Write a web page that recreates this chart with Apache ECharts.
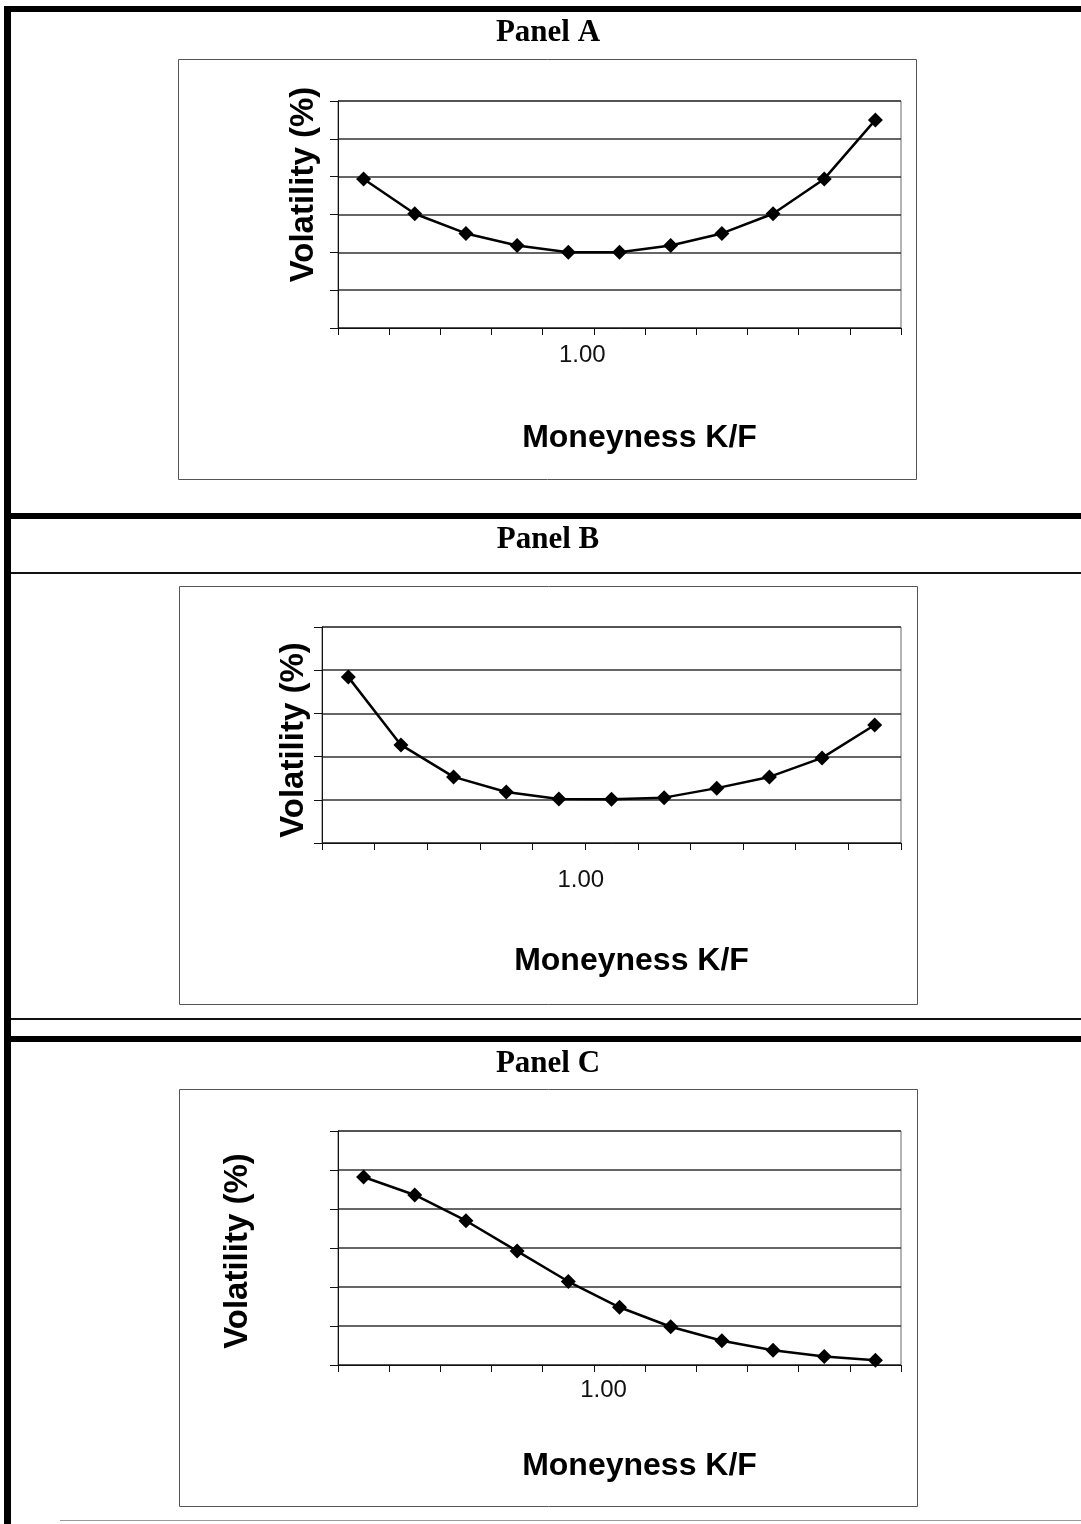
<!DOCTYPE html>
<html>
<head>
<meta charset="utf-8">
<script src="https://cdn.jsdelivr.net/npm/echarts@6/dist/echarts.min.js"></script>
<style>
html,body{margin:0;padding:0;background:#fff;}
#chart{width:1081px;height:1524px;}
</style>
</head>
<body>
<div id="chart"></div>
<script>
// ---- data ----
const panelTitles = ['Panel A', 'Panel B', 'Panel C'];
const xTickLabelsA = ['', '', '', '', '1.00', '', '', '', '', '', ''];
const xTickLabelsB = ['', '', '', '', '1.00', '', '', '', '', '', ''];
const xTickLabelsC = ['', '', '', '', '', '1.00', '', '', '', '', ''];
const volA = [19.7, 15.1, 12.5, 10.9, 10.0, 10.0, 10.9, 12.5, 15.1, 19.7, 27.5];
const volB = [38.4, 22.7, 15.3, 11.8, 10.2, 10.1, 10.5, 12.7, 15.3, 19.7, 27.3];
const volC = [24.1, 21.8, 18.5, 14.6, 10.7, 7.4, 4.9, 3.1, 1.9, 1.1, 0.6];
const xAxisName = 'Moneyness K/F';
const yAxisName = 'Volatility (%)';

// ---- chart ----
const chart = echarts.init(document.getElementById('chart'), null, {renderer: 'canvas'});

const grids = [
  {left: 338, top: 101, width: 563, height: 227},
  {left: 322, top: 627, width: 579, height: 216},
  {left: 338, top: 1131, width: 563, height: 234}
];
const labelShift = [28, 44, -32];
const labelMargin = [15, 25, 13];
const xNameGap = [94, 102, 85];
const yNameGap = [18, 12, 84];
const yNamePad = [[0,0,0,60],[0,10,0,0],[0,6,0,0]];
const yRanges = [{max: 30, interval: 5}, {max: 50, interval: 10}, {max: 30, interval: 5}];
const tickLabels = [xTickLabelsA, xTickLabelsB, xTickLabelsC];
const seriesData = [volA, volB, volC];

const sans = '"Liberation Sans", Arial, sans-serif';

const xAxes = tickLabels.map((labels, i) => ({
  type: 'category',
  gridIndex: i,
  data: labels,
  boundaryGap: true,
  axisLine: {show: true, lineStyle: {color: '#111', width: 1}},
  axisTick: {show: true, length: 7, interval: 0, lineStyle: {color: '#111'}},
  axisLabel: {
    show: true, interval: 0, margin: labelMargin[i],
    formatter: v => v ? '{a|' + v + '}' : '',
    rich: {a: {fontSize: 24, fontFamily: sans, color: '#111',
      padding: labelShift[i] >= 0 ? [0, 0, 0, labelShift[i]] : [0, -labelShift[i], 0, 0]}}
  },
  splitLine: {show: false},
  name: xAxisName,
  nameLocation: 'middle',
  nameGap: xNameGap[i],
  nameTextStyle: {fontSize: 32, fontWeight: 'bold', fontFamily: sans, color: '#000', padding: [0, 0, 0, 40]}
}));

const yAxes = yRanges.map((r, i) => ({
  type: 'value',
  gridIndex: i,
  min: 0, max: r.max, interval: r.interval,
  axisLine: {show: true, lineStyle: {color: '#111', width: 1}},
  axisTick: {show: true, length: 8, lineStyle: {color: '#111'}},
  axisLabel: {show: false},
  splitLine: {show: true, lineStyle: {color: '#333', width: 1.5}},
  name: yAxisName,
  nameLocation: 'middle',
  nameRotate: 90,
  nameGap: yNameGap[i],
  nameTextStyle: {fontSize: 33, fontWeight: 'bold', fontFamily: sans, color: '#000', padding: yNamePad[i]}
}));

const series = seriesData.map((d, i) => ({
  type: 'line',
  xAxisIndex: i, yAxisIndex: i,
  data: d,
  symbol: 'diamond',
  symbolSize: 15,
  lineStyle: {color: '#000', width: 2.5},
  itemStyle: {color: '#000'},
  animation: false
}));

const titleY = [12, 519, 1043];
const titles = panelTitles.map((t, i) => ({
  text: t, left: 543, top: titleY[i], textAlign: 'center',
  textStyle: {fontSize: 31, fontWeight: 'bold', fontFamily: '"Liberation Serif", "Times New Roman", serif', color: '#000'}
}));

const boxes = [
  {x: 178, y: 59, w: 738, h: 420},
  {x: 179, y: 586, w: 738, h: 418},
  {x: 179, y: 1089, w: 738, h: 417}
];

const graphic = [];
boxes.forEach(b => graphic.push({
  type: 'rect', shape: {x: b.x + 0.5, y: b.y + 0.5, width: b.w, height: b.h},
  style: {fill: null, stroke: '#555', lineWidth: 1}, z: -1, silent: true
}));
// frame rules of the page
const rules = [
  {x: 4, y: 6, w: 1077, h: 6, c: '#000'},
  {x: 4, y: 513, w: 1077, h: 6, c: '#000'},
  {x: 4, y: 572, w: 1077, h: 2, c: '#111'},
  {x: 4, y: 1018, w: 1077, h: 2, c: '#111'},
  {x: 4, y: 1036, w: 1077, h: 6, c: '#000'},
  {x: 60, y: 1520, w: 1021, h: 1, c: '#999'},
  {x: 4, y: 6, w: 7, h: 1518, c: '#000'}
];
rules.forEach(r => graphic.push({
  type: 'rect', shape: {x: r.x, y: r.y, width: r.w, height: r.h},
  style: {fill: r.c}, silent: true, z: 10
}));

chart.setOption({
  animation: false,
  backgroundColor: '#fff',
  title: titles,
  grid: grids.map(g => Object.assign({show: true, borderColor: '#666', borderWidth: 1, backgroundColor: '#fff', containLabel: false}, g)),
  xAxis: xAxes,
  yAxis: yAxes,
  series: series,
  graphic: graphic
});
</script>
</body>
</html>
